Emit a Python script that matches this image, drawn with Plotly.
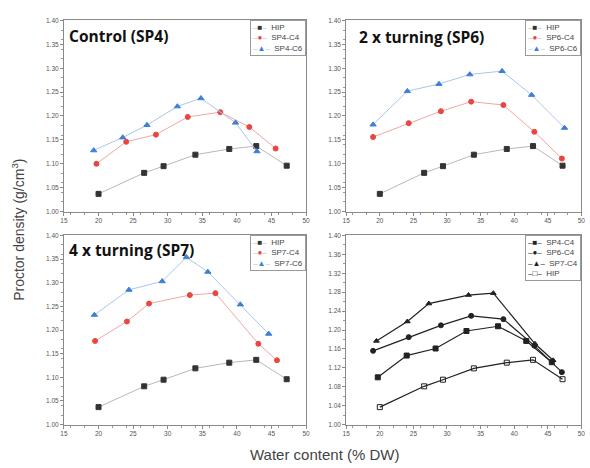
import plotly.graph_objects as go

# ---------------- data ----------------
hip_x = [20.0, 26.6, 29.4, 34.0, 38.9, 42.8, 47.2]
hip_y = [1.037, 1.081, 1.095, 1.119, 1.131, 1.137, 1.096]

sp4_c4_x = [19.7, 24.0, 28.3, 32.9, 37.6, 41.8, 45.6]
sp4_c4_y = [1.100, 1.146, 1.161, 1.198, 1.208, 1.177, 1.132]
sp4_c6_x = [19.3, 23.5, 27.0, 31.4, 34.8, 39.8, 42.9]
sp4_c6_y = [1.128, 1.155, 1.181, 1.220, 1.237, 1.186, 1.126]

sp6_c4_x = [19.0, 24.3, 29.1, 33.6, 38.4, 43.0, 47.1]
sp6_c4_y = [1.156, 1.185, 1.210, 1.230, 1.223, 1.167, 1.111]
sp6_c6_x = [19.0, 24.1, 28.8, 33.4, 38.2, 42.6, 47.5]
sp6_c6_y = [1.182, 1.252, 1.267, 1.287, 1.294, 1.244, 1.175]

sp7_c4_x = [19.5, 24.1, 27.3, 33.2, 36.9, 43.1, 45.8]
sp7_c4_y = [1.177, 1.218, 1.256, 1.274, 1.278, 1.171, 1.136]
sp7_c6_x = [19.4, 24.4, 29.2, 32.7, 35.8, 40.5, 44.6]
sp7_c6_y = [1.232, 1.285, 1.303, 1.354, 1.323, 1.254, 1.192]

x_ticks = [15, 20, 25, 30, 35, 40, 45, 50]
y_ticks_a = [1.00, 1.05, 1.10, 1.15, 1.20, 1.25, 1.30, 1.35, 1.40]
y_ticks_b = [1.00, 1.04, 1.08, 1.12, 1.16, 1.20, 1.24, 1.28, 1.32, 1.36, 1.40]

panel_titles = ["Control (SP4)", "2 x turning (SP6)", "4 x turning (SP7)"]

# ---------------- style ----------------
BLACK_M = "#333333"
RED_M = "#e8463f"
BLUE_M = "#3f7fd6"
GRAY_L = "#b8b8b8"
RED_L = "#f2a6a2"
BLUE_L = "#a9c6ee"
TEXT_C = "#444444"

fig = go.Figure()
legend_rows = {1: [], 2: [], 3: [], 4: []}

GLYPH = {"square": "■", "circle": "●", "triangle-up": "▲", "square-open": "□"}


def add_series(panel, xs, ys, name, sym, mcol, lcol, lw, ms):
    xa = "x" if panel == 1 else f"x{panel}"
    ya = "y" if panel == 1 else f"y{panel}"
    fig.add_trace(go.Scatter(x=xs, y=ys, name=name, mode="lines+markers",
                             line=dict(color=lcol, width=lw),
                             marker=dict(symbol=sym, size=ms, color=mcol,
                                         line=dict(color=mcol, width=1)),
                             xaxis=xa, yaxis=ya, showlegend=False))
    legend_rows[panel].append(
        f'<span style="color:{lcol}">–</span><span style="color:{mcol}">{GLYPH[sym]}</span>'
        f'<span style="color:{lcol}">–</span><span style="color:{TEXT_C}">  {name}</span>')


for p, (c4x, c4y, c6x, c6y, n4, n6) in {
        1: (sp4_c4_x, sp4_c4_y, sp4_c6_x, sp4_c6_y, "SP4-C4", "SP4-C6"),
        2: (sp6_c4_x, sp6_c4_y, sp6_c6_x, sp6_c6_y, "SP6-C4", "SP6-C6"),
        3: (sp7_c4_x, sp7_c4_y, sp7_c6_x, sp7_c6_y, "SP7-C4", "SP7-C6")}.items():
    add_series(p, hip_x, hip_y, "HIP", "square", BLACK_M, GRAY_L, 1, 5)
    add_series(p, c4x, c4y, n4, "circle", RED_M, RED_L, 1, 5)
    add_series(p, c6x, c6y, n6, "triangle-up", BLUE_M, BLUE_L, 1, 5.5)

for xs, ys, nm, sym in [(sp4_c4_x, sp4_c4_y, "SP4-C4", "square"),
                        (sp6_c4_x, sp6_c4_y, "SP6-C4", "circle"),
                        (sp7_c4_x, sp7_c4_y, "SP7-C4", "triangle-up"),
                        (hip_x, hip_y, "HIP", "square-open")]:
    add_series(4, xs, ys, nm, sym, "#222222", "#222222", 1.2, 5)

xd = [[0.103, 0.519], [0.588, 0.992], [0.103, 0.519], [0.588, 0.992]]
yd = [[0.5498, 0.9643], [0.5498, 0.9643], [0.0876, 0.4979], [0.0876, 0.4979]]

axis_common = dict(showline=True, linecolor="#8a8a8a", linewidth=1, mirror=True,
                   ticks="outside", ticklen=3, tickcolor="#8a8a8a",
                   tickfont=dict(size=6.5, color="#555555", family="Liberation Sans"),
                   showgrid=False, zeroline=False,
                   minor=dict(ticks="outside", ticklen=2, tickcolor="#9a9a9a"))

layout = dict(width=590, height=468, margin=dict(l=0, r=0, t=0, b=0),
              paper_bgcolor="white", plot_bgcolor="white", showlegend=False)

for i in range(4):
    sx = "" if i == 0 else str(i + 1)
    yt = y_ticks_b if i == 3 else y_ticks_a
    layout[f"xaxis{sx}"] = dict(axis_common, domain=xd[i], range=[15, 50],
                                tickvals=x_ticks, ticktext=[str(v) for v in x_ticks],
                                anchor=f"y{sx}")
    layout[f"yaxis{sx}"] = dict(axis_common, domain=yd[i], range=[1.0, 1.4],
                                tickvals=yt, ticktext=[f"{v:.2f}" for v in yt],
                                anchor=f"x{sx}")

fig.update_layout(**layout)

# legends (compact boxes in the top-right corner of each panel)
for i in range(4):
    fig.add_annotation(text="<br>".join(legend_rows[i + 1]), x=xd[i][1], y=yd[i][1],
                       xref="paper", yref="paper", xanchor="right", yanchor="top",
                       align="left", showarrow=False, bgcolor="white",
                       bordercolor="#9a9a9a", borderwidth=1, borderpad=2,
                       font=dict(size=8, color=TEXT_C, family="Liberation Sans"))

title_pos = [(0.108, 0.930), (0.606, 0.928), (0.108, 0.466)]
for t, (px, py) in zip(panel_titles, title_pos):
    fig.add_annotation(text=f"<b>{t}</b>", x=px, y=py, xref="paper", yref="paper",
                       xanchor="left", yanchor="middle", showarrow=False,
                       font=dict(size=15.5, color="#111111", family="Open Sans"))

fig.add_annotation(text="Water content (% DW)", x=0.55, y=0.022, xref="paper", yref="paper",
                   xanchor="center", yanchor="middle", showarrow=False,
                   font=dict(size=15, color=TEXT_C, family="Liberation Sans"))
fig.add_annotation(text="Proctor density (g/cm<sup>3</sup>)", x=0.024, y=0.51,
                   xref="paper", yref="paper", textangle=-90,
                   xanchor="center", yanchor="middle", showarrow=False,
                   font=dict(size=14, color=TEXT_C, family="Liberation Sans"))

fig.write_html("out.html")
